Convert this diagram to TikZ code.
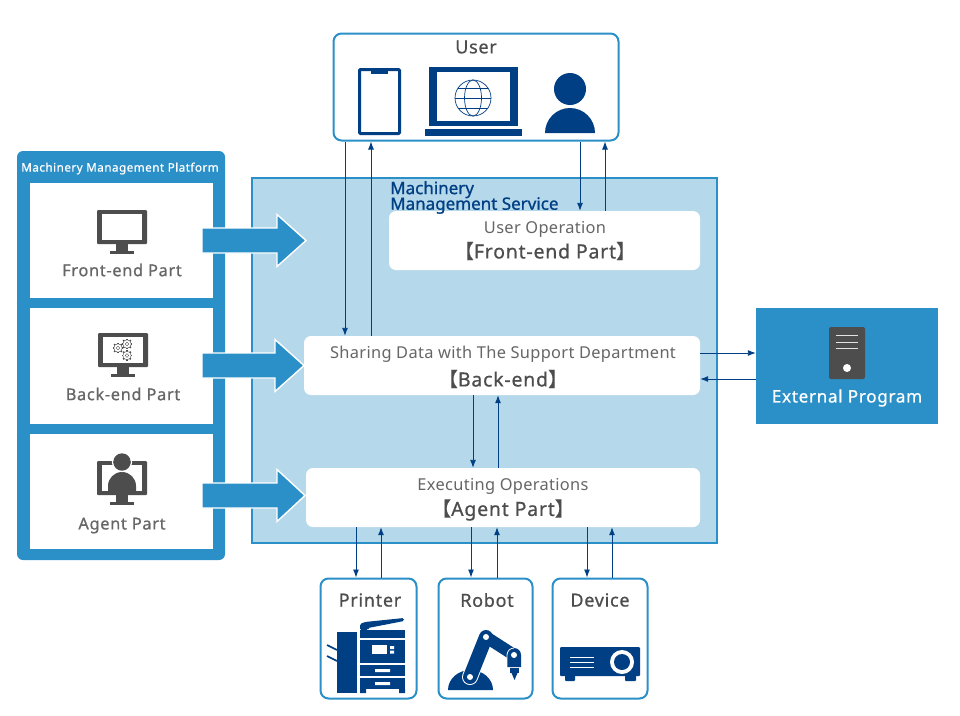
\documentclass[tikz,border=0pt]{standalone}
\usepackage{fontspec}
\setmainfont[LetterSpace=2]{Noto Sans}
\newfontfamily\cjk[FakeBold=0.7]{Noto Sans CJK JP}
\newfontfamily\medium[FakeBold=0.7,LetterSpace=4]{Noto Sans}
\newfontfamily\heading[FakeBold=0.9]{Noto Sans}
\usetikzlibrary{arrows.meta}
\definecolor{frameblue}{HTML}{2B90C8}
\definecolor{paleblue}{HTML}{B5D8EA}
\definecolor{navy}{HTML}{003F84}
\definecolor{icongray}{HTML}{4D4D4D}
\definecolor{textgray}{HTML}{666666}
\tikzset{
  framebox/.style={draw=frameblue,line width=2pt,fill=white,rounded corners=8pt,inner sep=0pt},
  partbox/.style={fill=white,inner sep=0pt,minimum width=183pt},
  stagebox/.style={fill=white,rounded corners=7pt,inner sep=0pt,minimum height=59pt},
  link/.style={navy,line width=0.9pt,-{Latex[length=8pt,width=6pt]}},
  fatarrow/.style={fill=frameblue,draw=white,line width=1.4pt,miter limit=8},
  monitor/.pic={
    \fill[icongray,rounded corners=1pt] (-25,0) rectangle (25,34);
    \fill[white] (-20,4) rectangle (20,30);
    \fill[icongray] (-6,34) rectangle (6,41);
    \fill[icongray] (-12,41) rectangle (12,44);
  },
  gearicon/.pic={
    \foreach \a in {0,45,...,315}
      \draw[icongray,line width=1.5pt] (0,0) -- (\a:5.4pt);
    \draw[icongray,fill=white,line width=0.4pt] (0,0) circle (4.2pt);
    \draw[icongray,line width=0.4pt] (0,0) circle (1.8pt);
  },
}
\begin{document}
\begin{tikzpicture}[x=1pt,y=-1pt]
\useasboundingbox (0,0) rectangle (960,715);
% containers
\node[fill=frameblue,rounded corners=6pt,inner sep=0pt,minimum width=208pt,minimum height=409pt] (platform) at (121,355.5) {};
\node[draw=frameblue,line width=2pt,fill=paleblue,inner sep=0pt,minimum width=465pt,minimum height=365pt] (service) at (484,360) {};
\node[framebox,minimum width=285pt,minimum height=107pt] (user) at (476,87) {};
\node[fill=frameblue,inner sep=0pt,minimum width=182pt,minimum height=116pt] (external) at (847,366) {};
\foreach \n/\x/\w in {printer/368.5/96, robot/485.5/94, device/600/95}
  \node[framebox,minimum width=\w pt,minimum height=120pt] (\n) at (\x,638.5) {};
\node[partbox,minimum height=115pt] (frontpart) at (121.5,240.5) {};
\node[partbox,minimum height=116pt] (backpart) at (121.5,366) {};
\node[partbox,minimum height=115pt] (agentpart) at (121.5,491.5) {};
\node[stagebox,minimum width=311pt] (frontend) at (544.5,240.5) {};
\node[stagebox,minimum width=396pt] (backend) at (502,365.5) {};
\node[stagebox,minimum width=394pt] (agent) at (503,497.5) {};
% fat arrows
\foreach \y/\xa/\xb in {240.5/277/306, 365.5/275/304, 495.5/277/305}
  \draw[fatarrow] (202,\y-12.5) -- (\xa,\y-12.5) -- (\xa,\y-26) -- (\xb,\y) -- (\xa,\y+26) -- (\xa,\y+12.5) -- (202,\y+12.5) -- cycle;
% connectors
\draw[link] (user.south -| 345,0) -- (backend.north -| 345,0);
\draw[link] (backend.north -| 371,0) -- (user.south -| 371,0);
\draw[link] (user.south -| 580,0) -- (frontend.north -| 580,0);
\draw[link] (frontend.north -| 605,0) -- (user.south -| 605,0);
\draw[link] (backend.south -| 473,0) -- (agent.north -| 473,0);
\draw[link] (agent.north -| 498,0) -- (backend.south -| 498,0);
\draw[link] (backend.east |- 0,353) -- (external.west |- 0,353);
\draw[link] (external.west |- 0,379) -- (backend.east |- 0,379);
\foreach \n/\xa/\xb in {printer/356/381, robot/471/497, device/587/612} {
  \draw[link] (agent.south -| \xa,0) -- (\n.north -| \xa,0);
  \draw[link] (\n.north -| \xb,0) -- (agent.south -| \xb,0);
}
% labels
\node[white,font=\fontsize{11.7}{12}\medium] (platformtitle) at (120,168.5) {Machinery Management Platform};
\node[textgray,font=\fontsize{16.4}{17}\medium] (frontlabel) at (122,270) {Front-end Part};
\node[textgray,font=\fontsize{16.4}{17}\medium] (backlabel) at (123,394) {Back-end Part};
\node[textgray,font=\fontsize{16.4}{17}\medium] (agentlabel) at (122,525.5) {Agent Part};
\node[icongray,font=\fontsize{18}{19}\medium] (userlabel) at (476,47) {User};
\node[navy,font=\fontsize{17}{15}\heading,align=left,anchor=north west,inner sep=0pt] (servicelabel) at (390,181) {Machinery\\[-2pt]Management Service};
\node[textgray,font=\fontsize{16.4}{17}\selectfont] (frontop) at (545,229.5) {User Operation};
\node[icongray,font=\fontsize{19.5}{20}\medium] (fronttag) at (545,251) {{\cjk 【}Front-end Part{\cjk 】}};
\node[textgray,font=\fontsize{16.4}{17}\selectfont] (backop) at (503,354.5) {Sharing Data with The Support Department};
\node[icongray,font=\fontsize{19.5}{20}\medium] (backtag) at (503,379) {{\cjk 【}Back-end{\cjk 】}};
\node[textgray,font=\fontsize{16.4}{17}\selectfont] (agentop) at (503,486.5) {Executing Operations};
\node[icongray,font=\fontsize{19.5}{20}\medium] (agenttag) at (503,510) {{\cjk 【}Agent Part{\cjk 】}};
\node[white,font=\fontsize{17.1}{18}\medium] (externallabel) at (847,398) {External Program};
\node[icongray,font=\fontsize{18}{19}\medium] (printerlabel) at (370,600) {Printer};
\node[icongray,font=\fontsize{18}{19}\medium] (robotlabel) at (487,600) {Robot};
\node[icongray,font=\fontsize{18}{19}\medium] (devicelabel) at (600,600) {Device};
% phone
\draw[navy,line width=3pt,rounded corners=1pt,fill=white] (359.5,69.5) rectangle (399.5,133.5);
\fill[navy] (371,68) rectangle (388,74);
% laptop
\fill[navy] (429,67) rectangle (518,126);
\fill[white] (437,72) rectangle (510,121);
\fill[navy] (425,129) rectangle (522,136);
\draw[navy,line width=0.7pt] (473,98) circle (18pt);
\draw[navy,line width=0.7pt] (473,98) ellipse (8.5pt and 18pt);
\draw[navy,line width=0.7pt] (455,98) -- (491,98) (458,88) -- (488,88) (458,108) -- (488,108);
% person
\fill[navy] (570,89) circle (16pt);
\fill[navy] (545,133) arc[start angle=180,end angle=0,x radius=25pt,y radius=25pt] -- cycle;
% screens on the left
\pic at (122,210) {monitor};
\pic at (123,333) {monitor};
\pic at (122,461) {monitor};
\pic at (118,348) {gearicon};
\pic at (127,344) {gearicon};
\pic at (127,355.5) {gearicon};
\fill[icongray] (108,493) -- (108,486) arc[start angle=180,end angle=0,radius=14pt] -- (136,493) -- cycle;
\draw[white,line width=1.4pt] (122,462) circle (9.4pt);
\fill[icongray] (122,462) circle (8.7pt);
% server
\fill[icongray,rounded corners=2pt] (829,327) rectangle (865,379);
\foreach \y in {335,342,348}
  \draw[white!85!icongray,line width=0.8pt] (836,\y) -- (858,\y);
\fill[white] (847,368) circle (4pt);
% printer
\fill[navy] (337,632) rectangle (357,693);
\draw[navy,line width=1.6pt] (327,645) -- (337,650) (327,656) -- (337,661);
\fill[navy,rounded corners=1.5pt] (360,630) -- (360,624) -- (365,622) -- (404,618) -- (404,621) -- (368,628) -- (368,630) -- cycle;
\fill[navy] (360,630) rectangle (405,638);
\fill[navy] (360,640) rectangle (405,663);
\fill[navy] (360,665) rectangle (405,676);
\fill[navy] (360,678) rectangle (405,689);
\fill[navy] (360,689) rectangle (366,693) (399,689) rectangle (405,693);
\fill[white] (372,645) rectangle (387,654);
\fill[white] (390,646) rectangle (394,649) (390,650.5) rectangle (394,653.5);
\fill[white] (375,669) rectangle (390,672) (375,682) rectangle (390,685);
% robot
\fill[navy] (448,690) arc[start angle=180,end angle=0,x radius=22.5pt,y radius=20pt] -- cycle;
\draw[white,line width=16pt,line cap=round] (470,677) -- (486,637);
\draw[navy,line width=14pt,line cap=round] (470,677) -- (486,637);
\draw[navy,line width=12pt,line cap=round] (486,637) -- (514,655);
\fill[navy] (514,667) -- (521,667) -- (521,655) arc[start angle=0,end angle=180,radius=7pt] -- (507,667) -- cycle;
\draw[white,line width=0.8pt] (507,667) -- (507,655) arc[start angle=180,end angle=90,radius=7pt];
\fill[navy] (510,668) rectangle (519,673);
\fill[navy] (511.5,673) -- (517.5,673) -- (514.5,680) -- cycle;
\fill[white] (470,677) circle (3pt) (486,637) circle (3pt) (514,655) circle (3pt);
% projector
\fill[navy,rounded corners=1pt] (560,647) rectangle (640,676);
\fill[navy,rounded corners=1pt] (565,674) rectangle (575,681) (625,674) rectangle (636,681);
\foreach \y in {657,662,667}
  \draw[white,line width=0.8pt] (570,\y) -- (594,\y);
\fill[white] (622,662) circle (12pt);
\fill[navy] (622,662) circle (8pt);
\end{tikzpicture}
\end{document}
